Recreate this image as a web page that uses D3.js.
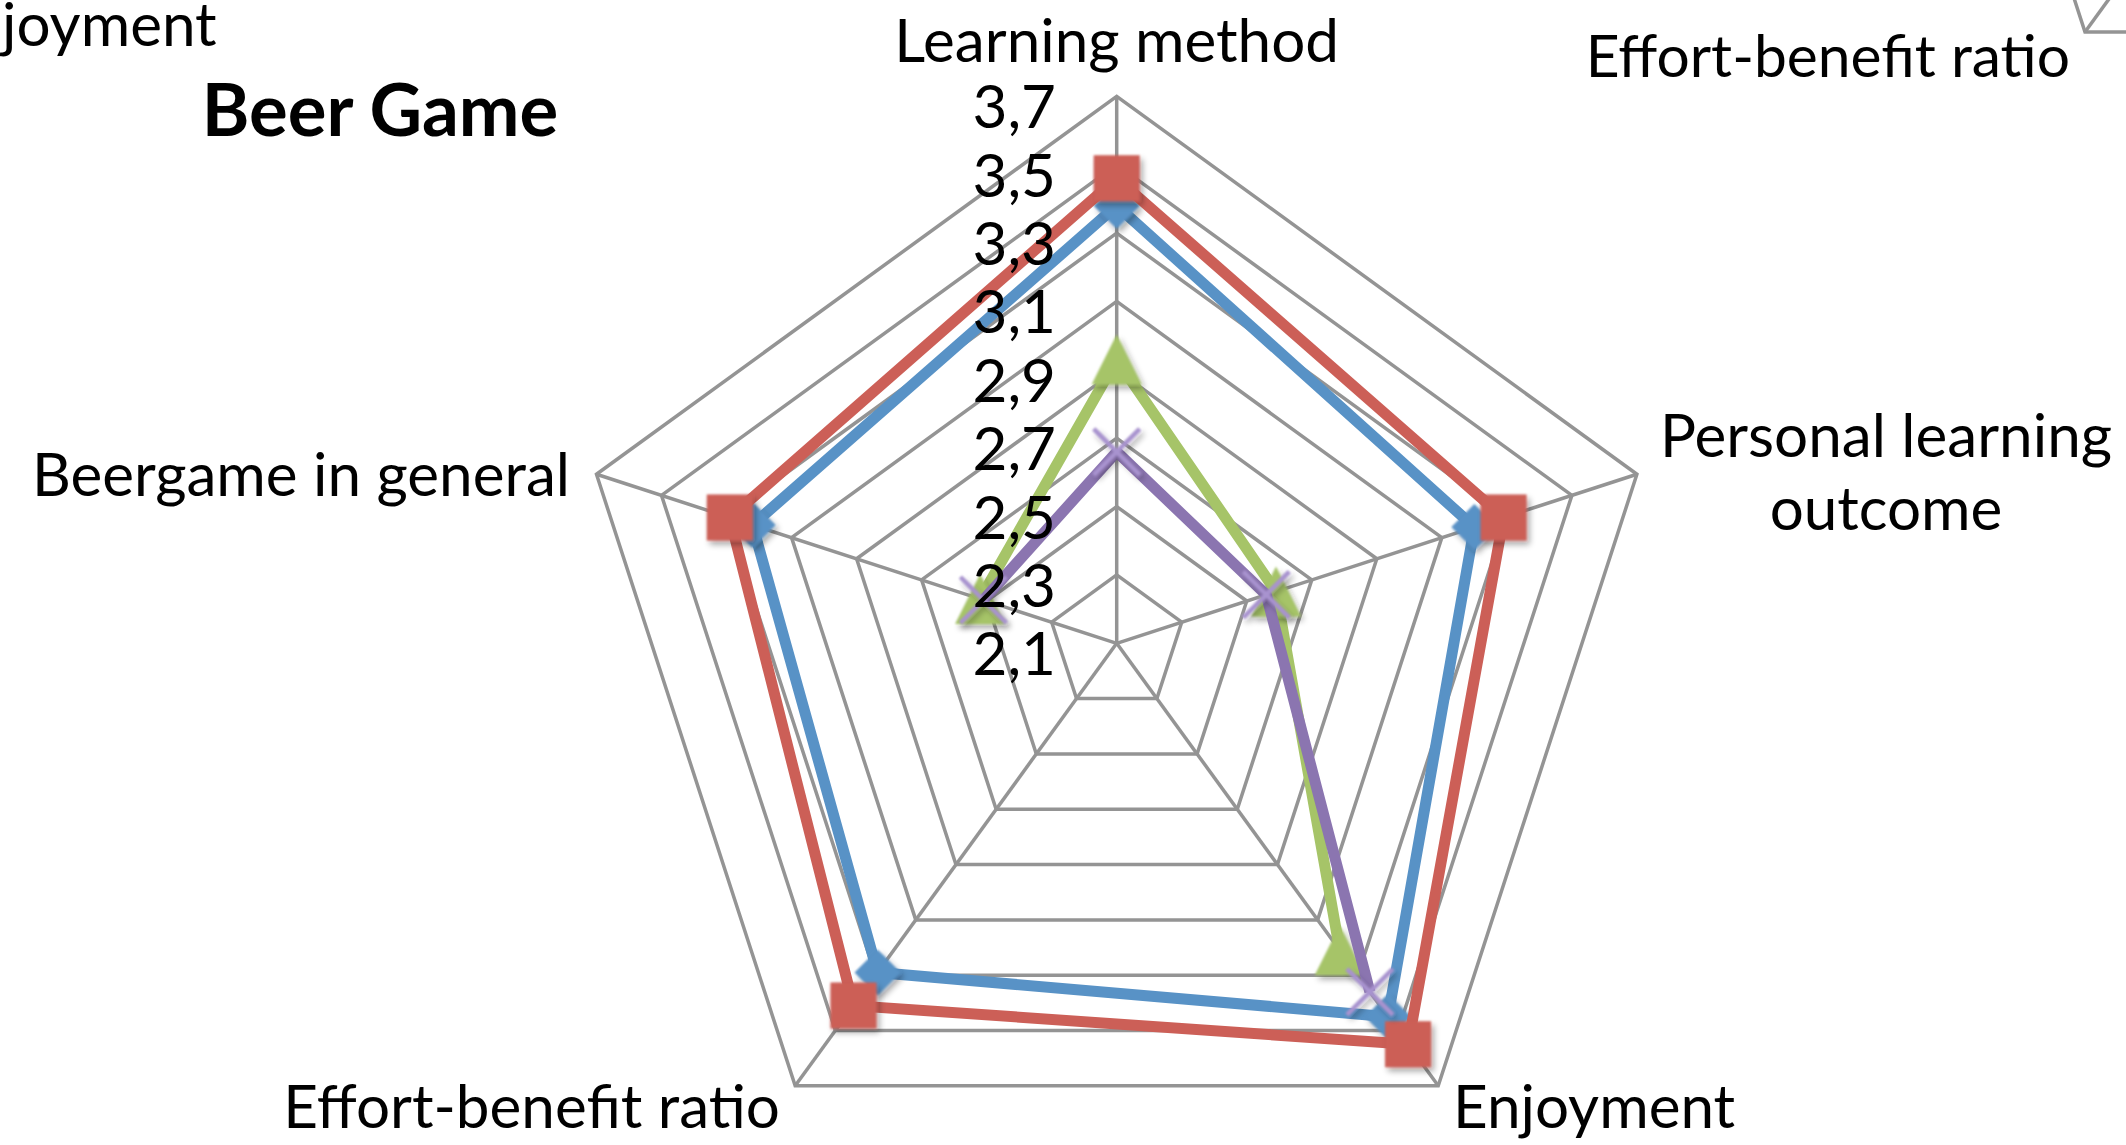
<!DOCTYPE html>
<html>
<head>
<meta charset="utf-8">
<script src="https://cdn.jsdelivr.net/npm/d3@7"></script>
<style>
  html, body { margin: 0; padding: 0; background: #ffffff; }
  svg { display: block; }
  text { font-family: Lato, "Open Sans", sans-serif; fill: #000; }
</style>
</head>
<body>
<svg id="chart" width="2126" height="1145"></svg>
<script>
// Radar chart: Beer Game evaluation, four respondent groups on five criteria.
const categories = ["Learning method", "Personal learning outcome", "Enjoyment", "Effort-benefit ratio", "Beergame in general"];
const categoryLines = [["Learning method"], ["Personal learning", "outcome"], ["Enjoyment"], ["Effort-benefit ratio"], ["Beergame in general"]];

const series1 = [3.38, 3.20, 3.45, 3.29, 3.22];   // blue, diamonds
const series2 = [3.46, 3.29, 3.55, 3.41, 3.29];   // red, squares
const series3 = [2.93, 2.59, 3.21, null, 2.52];   // green, triangles (no effort-benefit value)
const series4 = [2.66, 2.56, 3.36, null, 2.51];   // purple, crosses (no effort-benefit value)

const tickValues = [2.1, 2.3, 2.5, 2.7, 2.9, 3.1, 3.3, 3.5, 3.7];
const tickLabels = ["2,1", "2,3", "2,5", "2,7", "2,9", "3,1", "3,3", "3,5", "3,7"];

const title = "Beer Game";

const svg = d3.select("#chart");

const cx = 1116.7, cy = 643.3;
const labelSize = 60.2;
const rScale = d3.scaleLinear().domain([2.1, 3.7]).range([0, 547]);
const angleScale = d3.scaleLinear().domain([0, categories.length]).range([-Math.PI / 2, 1.5 * Math.PI]);

function pt(i, v, c) {
  const a = angleScale(i), r = rScale(v);
  return [c[0] + r * Math.cos(a), c[1] + r * Math.sin(a)];
}

const defs = svg.append("defs");
const shadow = defs.append("filter").attr("id", "mshadow")
  .attr("x", "-50%").attr("y", "-50%").attr("width", "200%").attr("height", "200%");
shadow.append("feGaussianBlur").attr("in", "SourceGraphic").attr("stdDeviation", 1.2).attr("result", "soft");
shadow.append("feGaussianBlur").attr("in", "SourceAlpha").attr("stdDeviation", 3).attr("result", "blur");
shadow.append("feOffset").attr("in", "blur").attr("dx", 3).attr("dy", 4).attr("result", "off");
shadow.append("feComponentTransfer").attr("in", "off").attr("result", "offA")
  .append("feFuncA").attr("type", "linear").attr("slope", 0.35);
const merge = shadow.append("feMerge");
merge.append("feMergeNode").attr("in", "offA");
merge.append("feMergeNode").attr("in", "soft");

// Grid: concentric pentagons and spokes
function drawGrid(g, c) {
  const ringVals = tickValues.slice(1);
  g.selectAll("polygon.ring").data(ringVals).join("polygon")
    .attr("class", "ring")
    .attr("points", v => categories.map((_, i) => pt(i, v, c).join(",")).join(" "))
    .attr("fill", "none").attr("stroke", "#949494").attr("stroke-width", 3.5);
  g.selectAll("line.spoke").data(categories).join("line")
    .attr("class", "spoke")
    .attr("x1", c[0]).attr("y1", c[1])
    .attr("x2", (_, i) => pt(i, 3.7, c)[0]).attr("y2", (_, i) => pt(i, 3.7, c)[1])
    .attr("stroke", "#949494").attr("stroke-width", 3.5);
}

// Neighbouring charts in the same panel (only their edges reach this view)
const nbC = [2085 + rScale(3.7) * Math.cos(Math.PI * 0.3), 32 - rScale(3.7) * Math.sin(Math.PI * 0.3)];
drawGrid(svg.append("g"), nbC);
svg.append("text").attr("x", 2070).attr("y", 77).attr("text-anchor", "end")
  .attr("font-size", 58.7).text("Effort-benefit ratio");
svg.append("text").attr("x", 2).attr("y", 46).attr("text-anchor", "start")
  .attr("font-size", labelSize).text("joyment");

// Main chart
const grid = svg.append("g");
drawGrid(grid, [cx, cy]);

// Category labels
const labelPos = [
  { x: cx, y: 62, anchor: "middle" },
  { x: 1886, y: 457, anchor: "middle" },
  { x: 1453, y: 1128, anchor: "start" },
  { x: 780, y: 1128, anchor: "end" },
  { x: 570, y: 496, anchor: "end" }
];
categoryLines.forEach((lines, i) => {
  const t = svg.append("text").attr("text-anchor", labelPos[i].anchor).attr("font-size", labelSize);
  lines.forEach((s, k) => {
    t.append("tspan").attr("x", labelPos[i].x).attr("y", labelPos[i].y + k * 73).text(s);
  });
});

// Title
svg.append("text").attr("x", 380).attr("y", 136).attr("text-anchor", "middle")
  .attr("font-size", 72.5).attr("font-weight", 700).text(title);

// Series
const seriesList = [
  { values: series1, color: "#5892C6", marker: "diamond" },
  { values: series2, color: "#CC5F57", marker: "square" },
  { values: series3, color: "#A6C468", marker: "triangle" },
  { values: series4, color: "#8B75B0", marker: "cross" }
];

const lineGen = d3.line().defined(d => d.v != null).x(d => d.x).y(d => d.y);

function markerPath(type) {
  const s = 23;
  if (type === "square") return `M${-s},${-s}H${s}V${s}H${-s}Z`;
  if (type === "diamond") return `M0,${-s}L${s},0L0,${s}L${-s},0Z`;
  if (type === "triangle") { const t = 25; return `M0,${-t}L${t},${t}L${-t},${t}Z`; }
  return `M${-s},${-s}L${s},${s}M${s},${-s}L${-s},${s}`;
}

seriesList.forEach(sr => {
  const g = svg.append("g");
  const idx = d3.range(categories.length + 1).map(k => k % categories.length);
  const pts = idx.map(i => {
    const v = sr.values[i];
    const p = v == null ? [0, 0] : pt(i, v, [cx, cy]);
    return { v, x: p[0], y: p[1] };
  });
  g.append("path").attr("d", lineGen(pts))
    .attr("fill", "none").attr("stroke", sr.color).attr("stroke-width", 11)
    .attr("stroke-linejoin", "round");
  const markPts = sr.values.map((v, i) => ({ v, i })).filter(d => d.v != null);
  g.selectAll("path.mk").data(markPts).join("path")
    .attr("class", "mk")
    .attr("transform", d => { const p = pt(d.i, d.v, [cx, cy]); return `translate(${p[0]},${p[1]})`; })
    .attr("d", markerPath(sr.marker))
    .attr("fill", sr.marker === "cross" ? "none" : sr.color)
    .attr("stroke", sr.marker === "cross" ? "#A893CF" : "none")
    .attr("stroke-width", sr.marker === "cross" ? 4.5 : 0)
    .attr("filter", "url(#mshadow)");
});

// Radial tick labels along the top spoke
svg.append("g").selectAll("text").data(tickValues).join("text")
  .attr("x", 1056)
  .attr("y", v => cy - rScale(v) + 32)
  .attr("text-anchor", "end")
  .attr("font-size", labelSize)
  .text((v, i) => tickLabels[i]);
</script>
</body>
</html>
